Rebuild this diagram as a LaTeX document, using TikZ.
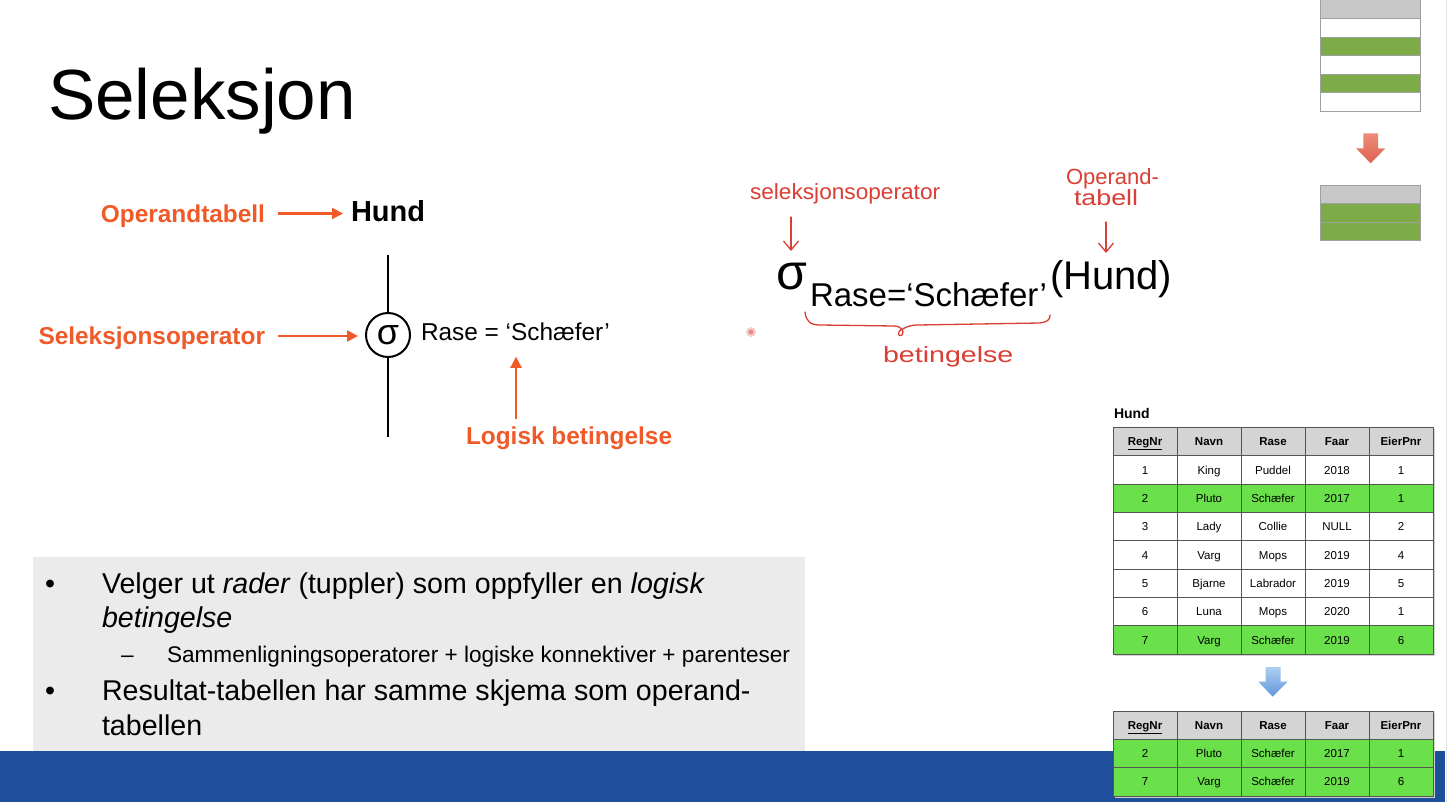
\documentclass[tikz,border=0pt]{standalone}
\usepackage{fontspec}
\setmainfont{Liberation Sans}
\usetikzlibrary{arrows.meta}
\newcommand\setfs[1]{\fontsize{#1}{#1}\selectfont}
\definecolor{accent}{RGB}{240,90,40}
\definecolor{ink}{RGB}{218,62,52}
\definecolor{slideblue}{RGB}{31,78,154}
\definecolor{panel}{RGB}{235,235,235}
\definecolor{rowgreen}{RGB}{106,224,74}
\definecolor{hdrgray}{RGB}{212,212,212}
\definecolor{olive}{RGB}{124,171,71}
\definecolor{gridc}{RGB}{85,85,85}
\definecolor{edgec}{RGB}{225,225,225}
\definecolor{stripehdr}{RGB}{200,200,200}
\definecolor{salmontop}{RGB}{238,140,122}
\definecolor{salmonbot}{RGB}{222,96,80}
\definecolor{skytop}{RGB}{172,206,242}
\definecolor{skybot}{RGB}{98,152,218}
\tikzset{
  lbl/.style={font=\setfs{24.4}\bfseries, text=accent, text height=17.5pt, text depth=0pt},
  oarrow/.style={draw=accent, line width=2.2pt, -{Triangle[length=11pt,width=11pt]}},
  stem/.style={draw=black, line width=2pt},
  hand/.style={font=\setfs{22}, text=ink, anchor=base west},
  handarrow/.style={draw=ink, line width=1.3pt, line cap=round, line join=round,
    -{Straight Barb[length=9pt,width=15pt]}},
  cell/.style={font=\setfs{11.5}, text height=8.3pt, text depth=0pt},
  hcell/.style={font=\setfs{11.5}\bfseries, text height=8.3pt, text depth=0pt},
  gridline/.style={draw=gridc, line width=1pt},
  stripe/.style={draw=gray!75, line width=0.8pt},
  bullet/.style={anchor=base west, font=\setfs{28.6}},
}
\begin{document}
\begin{tikzpicture}[x=1pt,y=-1pt, every node/.style={inner sep=0pt, outer sep=0pt}]
\useasboundingbox (0,0) rectangle (1448,802);
\fill[white] (0,0) rectangle (1448,802);

% page edge and footer bar
\draw[draw=edgec, line width=1pt] (1446.5,0) -- (1446.5,802);
\fill[slideblue] (0,751) rectangle (1445,802);

% title
\node[anchor=base west, font=\setfs{71}] (title) at (48,120) {Seleksjon};

% ---- query tree ----
\node[lbl, anchor=east] (opl) at (265,213.5) {Operandtabell};
\node[font=\setfs{29}\bfseries, anchor=west, text height=21pt, text depth=0pt] (hund) at (351,211.5) {Hund};
\draw[oarrow, shorten <=13pt, shorten >=8pt] (opl.east) -- (hund.west |- opl.east);

\node[circle, draw, line width=2pt, minimum size=44pt, font=\setfs{36}] (sel) at (388,335) {σ};
\coordinate (stemtop) at (388,255);
\coordinate (stembot) at (388,437);
\draw[stem] (stemtop) -- (sel);
\draw[stem] (sel) -- (stembot);

\node[lbl, anchor=east] (sopl) at (265,336) {Seleksjonsoperator};
\draw[oarrow, shorten <=13pt, shorten >=8pt] (sopl.east) -- (sel.west |- sopl.east);

\node[anchor=west, font=\setfs{24.4}, text height=17.5pt, text depth=0pt] (cond) at (421,332) {Rase = ‘Schæfer’};
\node[lbl, anchor=west] (lb) at (466,436) {Logisk betingelse};
\coordinate (lbanchor) at ([xshift=-53pt]lb.north);
\draw[oarrow, shorten <=8pt, shorten >=16pt] (lbanchor) -- (lbanchor |- cond.south);

% ---- algebra notation with handwritten notes ----
\node[anchor=base west, font=\setfs{50}] (sig) at (776,290) {σ};
\node[anchor=base west, font=\setfs{33}] (sub) at (810,306) {Rase=‘Schæfer’};
\node[anchor=base west, font=\setfs{40}] (hnd) at (1050,290) {(Hund)};

\node[hand] (hw1) at (750,200) {\scalebox{1.03}[1]{seleksjonsoperator}};
\coordinate (hw1a) at (791,217);
\coordinate (hw1b) at (791,251);
\draw[handarrow] (hw1a) -- (hw1b);

\node[hand] (hw2) at (1066,185) {Operand-};
\node[hand] (hw3) at (1074,206) {\scalebox{1.22}[1]{tabell}};
\coordinate (hw2a) at (1106,222);
\coordinate (hw2b) at (1106,253);
\draw[handarrow] (hw2a) -- (hw2b);

\draw[draw=ink, line width=1.3pt, line cap=round, line join=round]
  (805,312) .. controls (806,321) and (810,325) .. (820,325)
  -- (894,326) .. controls (901,326) and (905,331) .. (902,335)
  .. controls (898,338) and (896,331) .. (903,329)
  .. controls (906,327) and (910,325) .. (918,325)
  -- (1040,323) .. controls (1047,322) and (1050,320) .. (1050,315);
\node[hand] (hw4) at (883,362) {\scalebox{1.3}[1]{betingelse}};

% pointer dot
\fill[ink, opacity=0.25] (751,332) circle (5pt);
\fill[ink!70, opacity=0.8] (751,332) circle (2.5pt);

% ---- bullet panel ----
\fill[panel] (33,557) rectangle (805,751);
\node[bullet] (b1) at (45,593) {•};
\node[bullet] (t1) at (102,593) {Velger ut \textit{rader} (tuppler) som oppfyller en \textit{logisk}};
\node[bullet] (t1b) at (102,627) {\textit{betingelse}};
\node[anchor=base west, font=\setfs{22.6}] (d1) at (121,662) {–};
\node[anchor=base west, font=\setfs{22.6}] (t2) at (167,662) {Sammenligningsoperatorer + logiske konnektiver + parenteser};
\node[bullet] (b2) at (45,700) {•};
\node[bullet] (t3) at (102,700) {Resultat-tabellen har samme skjema som operand-};
\node[bullet] (t3b) at (102,735) {tabellen};

% ---- stripe icons ----
\fill[stripehdr] (1320,0) rectangle (1420.7,18.5);
\fill[olive] (1320,37) rectangle (1420.7,55.5);
\fill[olive] (1320,74) rectangle (1420.7,92.5);
\foreach \yy in {18.5,37,55.5,74,92.5}
  \draw[stripe] (1320,\yy) -- (1420.7,\yy);
\draw[stripe] (1320,-1) rectangle (1420.7,111);

\shade[top color=salmontop, bottom color=salmonbot]
  (1363.3,133.3) -- (1378,133.3) -- (1378,148.3) -- (1385.3,148.3) -- (1370.7,163.3)
  -- (1356,148.3) -- (1363.3,148.3) -- cycle;

\fill[stripehdr] (1320,185) rectangle (1420.7,203.7);
\fill[olive] (1320,203.7) rectangle (1420.7,240.7);
\draw[stripe] (1320,203.7) -- (1420.7,203.7);
\draw[stripe] (1320,222.3) -- (1420.7,222.3);
\draw[stripe] (1320,185) rectangle (1420.7,240.7);

% ---- Hund table ----
\node[anchor=base west, font=\setfs{14}\bfseries] (tname) at (1114,418) {Hund};
\fill[black!18] (1115,429) rectangle (1435,656);
\fill[hdrgray] (1113,427) rectangle (1433,455.7);
\fill[white] (1113,455.7) rectangle (1433,654);
\foreach \c/\h in {1/\underline{RegNr},2/Navn,3/Rase,4/Faar,5/EierPnr}
  \node[hcell] (ha-\c) at ({1145+(\c-1)*64},441.5) {\h};
\foreach \r/\va/\vb/\vc/\vd/\ve/\fc in {
  1/1/King/Puddel/2018/1/white,
  2/2/Pluto/Schæfer/2017/1/rowgreen,
  3/3/Lady/Collie/NULL/2/white,
  4/4/Varg/Mops/2019/4/white,
  5/5/Bjarne/Labrador/2019/5/white,
  6/6/Luna/Mops/2020/1/white,
  7/7/Varg/Schæfer/2019/6/rowgreen}{
  \pgfmathsetmacro\ry{455.7+(\r-1)*28.33}
  \fill[\fc] (1113,\ry) rectangle (1433,\ry+28.33);
  \node[cell] (ta-\r-1) at (1145,\ry+14.2) {\va};
  \node[cell] (ta-\r-2) at (1209,\ry+14.2) {\vb};
  \node[cell] (ta-\r-3) at (1273,\ry+14.2) {\vc};
  \node[cell] (ta-\r-4) at (1337,\ry+14.2) {\vd};
  \node[cell] (ta-\r-5) at (1401,\ry+14.2) {\ve};
}
\foreach \cx in {1177,1241,1305,1369}
  \draw[gridline] (\cx,427) -- (\cx,654);
\foreach \i in {0,...,6}
  \draw[gridline] (1113,{455.7+\i*28.33}) -- (1433,{455.7+\i*28.33});
\draw[gridline] (1113,427) rectangle (1433,654);

% ---- down arrow ----
\shade[top color=skytop, bottom color=skybot]
  (1265.7,667) -- (1280.7,667) -- (1280.7,681.7) -- (1287.7,681.7) -- (1272.7,696.7)
  -- (1258.3,681.7) -- (1265.7,681.7) -- cycle;

% ---- result table ----
\fill[black!18] (1115,713) rectangle (1435,798);
\fill[hdrgray] (1113,711) rectangle (1433,739);
\fill[rowgreen] (1113,739) rectangle (1433,796);
\foreach \c/\h in {1/\underline{RegNr},2/Navn,3/Rase,4/Faar,5/EierPnr}
  \node[hcell] (hb-\c) at ({1145+(\c-1)*64},725) {\h};
\foreach \r/\va/\vb/\vc/\vd/\ve in {
  1/2/Pluto/Schæfer/2017/1,
  2/7/Varg/Schæfer/2019/6}{
  \pgfmathsetmacro\ry{739+(\r-1)*28.5}
  \node[cell] (tb-\r-1) at (1145,\ry+14.2) {\va};
  \node[cell] (tb-\r-2) at (1209,\ry+14.2) {\vb};
  \node[cell] (tb-\r-3) at (1273,\ry+14.2) {\vc};
  \node[cell] (tb-\r-4) at (1337,\ry+14.2) {\vd};
  \node[cell] (tb-\r-5) at (1401,\ry+14.2) {\ve};
}
\foreach \cx in {1177,1241,1305,1369}
  \draw[gridline] (\cx,711) -- (\cx,796);
\draw[gridline] (1113,739) -- (1433,739);
\draw[gridline] (1113,767.5) -- (1433,767.5);
\draw[gridline] (1113,711) rectangle (1433,796);
\end{tikzpicture}
\end{document}
